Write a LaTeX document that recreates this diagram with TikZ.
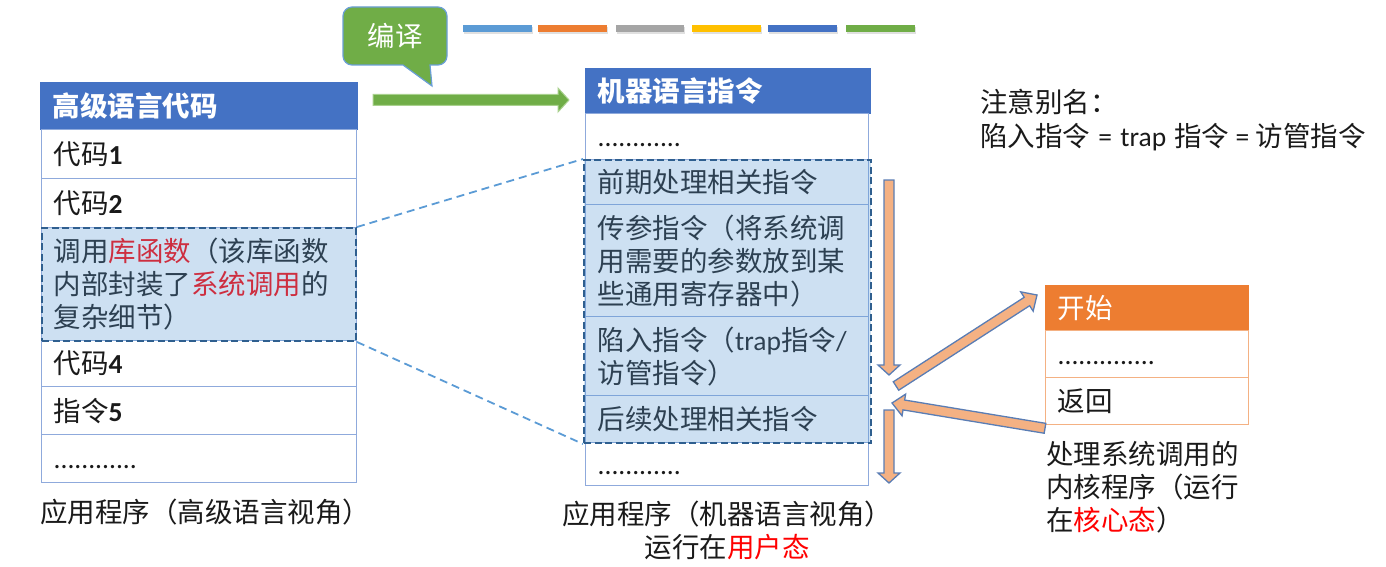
\documentclass[tikz,border=0pt]{standalone}
\usepackage{fontspec}
\setmainfont{Noto Sans CJK SC}
\newfontfamily\lat{Carlito}
\usetikzlibrary{calc}
\definecolor{hblue}{HTML}{4472C4}
\definecolor{cellb}{HTML}{8FAADC}
\definecolor{horange}{HTML}{ED7D31}
\definecolor{orangeb}{HTML}{F4B183}
\definecolor{ofill}{HTML}{F4B183}
\definecolor{oline}{HTML}{5A7DB4}
\definecolor{gfill}{HTML}{70AD47}
\definecolor{gline}{HTML}{A9D18E}
\definecolor{calloutb}{HTML}{6A9FD6}
\definecolor{hlfill}{HTML}{5B9BD5}
\definecolor{hlline}{HTML}{2F5F8F}
\definecolor{connc}{HTML}{5B9BD5}
\definecolor{txt}{HTML}{1A1A1A}
\definecolor{bA}{HTML}{5B9BD5}
\definecolor{bB}{HTML}{ED7D31}
\definecolor{bC}{HTML}{A5A5A5}
\definecolor{bD}{HTML}{FFC000}
\definecolor{bE}{HTML}{4472C4}
\definecolor{bF}{HTML}{70AD47}
\newcommand\fs{\fontsize{27.5}{33}\selectfont}
\newcommand\ns{\fontsize{27.5}{34}\selectfont}
\newcommand\dg[1]{{\lat\bfseries #1}}
\newcommand\blkarrow[6]{%
  \coordinate (bac) at ($(#3)!#6!(#2)$);
  \path[#1] ($(#2)!#4!90:(#3)$) -- ($(bac)!#4!90:(#3)$) -- ($(bac)!#5!90:(#3)$) -- (#3)
    -- ($(bac)!#5!-90:(#3)$) -- ($(bac)!#4!-90:(#3)$) -- ($(#2)!#4!-90:(#3)$) -- cycle;}
\tikzset{
  tbase/.style={anchor=north west, inner xsep=12pt, inner ysep=0pt, align=left, font=\fs, text=txt},
  hdrbox/.style={tbase, fill=#1, draw=#1, text=white, line width=1pt},
  cellbox/.style={tbase, fill=white, draw=#1, line width=1.3pt},
  wL/.style 2 args={minimum width=#1pt, text width=#2pt},
  hlbox/.style={draw=hlline, line width=2pt, dash pattern=on 7pt off 3.5pt, fill=hlfill, fill opacity=0.3, draw opacity=1, inner sep=0pt, anchor=north west},
  connline/.style={draw=connc, line width=1.8pt, dash pattern=on 8pt off 5pt},
  garrow/.style={fill=gfill, draw=gline, line width=1pt},
  oarrow/.style={fill=ofill, draw=oline, line width=1.3pt},
  captxt/.style={inner sep=0pt, font=\fs, text=txt},
  bubble/.style={fill=gfill, draw=calloutb, line width=1.2pt},
}
\begin{document}
\begin{tikzpicture}[x=1pt, y=-1pt]
\useasboundingbox (0,0) rectangle (1386,567);
% colour bars
\foreach \a/\b/\c in {463/532/bA, 538/607/bB, 616/684/bC, 692/761/bD, 768/837/bE, 846/915/bF}{
  \fill[black, opacity=0.12] (\a+1,27) rectangle (\b+1,34);
  \fill[\c] (\a,25) rectangle (\b,32);
}
% callout
\draw[bubble] (403,65) [rounded corners=9pt] -- (343,65) -- (343,7) -- (447,7) -- (447,65) [sharp corners] -- (430,65) -- (432,86) -- cycle;
\node[inner sep=0pt, font=\fs, text=white] (bianyi) at (395,36) {编译};

% left table
\node[hdrbox=hblue, wL={317}{293}, minimum height=47pt, font=\fs\bfseries] (lh) at (40,82) {高级语言代码};
\node[cellbox=cellb, wL={315}{291}, minimum height=49pt] (l1) at (41,129) {代码\dg{1}};
\node[cellbox=cellb, wL={315}{291}, minimum height=49pt] (l2) at (41,178) {代码\dg{2}};
\node[cellbox=cellb, wL={315}{291}, minimum height=113pt] (l3) at (41,227) {调用\textcolor{red}{库函数}（该库函数\\内部封装了\textcolor{red}{系统调用}的\\复杂细节）};
\node[cellbox=cellb, wL={315}{291}, minimum height=46pt] (l4) at (41,340) {代码\dg{4}};
\node[cellbox=cellb, wL={315}{291}, minimum height=48pt] (l5) at (41,386) {指令\dg{5}};
\node[cellbox=cellb, wL={315}{291}, minimum height=48pt] (l6) at (41,434) {\vphantom{代}{\lat ............}};
\node[hlbox, minimum width=314pt, minimum height=113pt] (lhl) at (41,227) {};
\node[captxt, anchor=west] (lcap) at (40,512) {应用程序（高级语言视角）};

% middle table
\node[hdrbox=hblue, wL={285}{261}, minimum height=45pt, font=\fs\bfseries] (mh) at (585,68) {机器语言指令};
\node[cellbox=cellb, wL={283}{259}, minimum height=46pt] (m1) at (585,113) {\vphantom{代}{\lat ............}};
\node[cellbox=cellb, wL={283}{259}, minimum height=45pt] (m2) at (585,159) {前期处理相关指令};
\node[cellbox=cellb, wL={283}{259}, minimum height=112pt] (m3) at (585,204) {传参指令（将系统调\\用需要的参数放到某\\些通用寄存器中）};
\node[cellbox=cellb, wL={283}{259}, minimum height=79pt] (m4) at (585,316) {陷入指令（{\lat trap}指令{\lat /}\\访管指令）};
\node[cellbox=cellb, wL={283}{259}, minimum height=47pt] (m5) at (585,395) {后续处理相关指令};
\node[cellbox=cellb, wL={283}{259}, minimum height=43pt] (m6) at (585,442) {\vphantom{代}{\lat ............}};
\node[hlbox, minimum width=287pt, minimum height=283pt] (mhl) at (583,159) {};
\node[captxt, align=center] (mcap) at (727,530) {应用程序（机器语言视角）\\运行在\textcolor{red}{用户态}};

% dashed connectors
\draw[connline] (lhl.north east) -- (mhl.north west);
\draw[connline] (lhl.south east) -- (mhl.south west);

% compile arrow
\coordinate (gA) at (373,100);
\coordinate (gB) at (569,100);
\blkarrow{garrow}{gA}{gB}{5.5pt}{12pt}{11pt}

% right table
\node[hdrbox=horange, wL={203}{179}, minimum height=45pt] (rh) at (1045,285) {开始};
\node[cellbox=orangeb, wL={203}{179}, minimum height=47pt] (r1) at (1045,330) {\vphantom{代}{\lat ..............}};
\node[cellbox=orangeb, wL={203}{179}, minimum height=47pt] (r2) at (1045,377) {返回};
\node[captxt, anchor=west, align=left] (rcap) at (1046,487) {处理系统调用的\\内核程序（运行\\在\textcolor{red}{核心态}）};

% note
\node[captxt, anchor=west, align=left, font=\ns] (note) at (980,120) {注意别名：\\陷入指令{\lat\hspace{2pt}\ = \hspace{2pt}trap\hspace{2pt}\ }指令{\lat\ = }访管指令};

% orange arrows
\coordinate (o1s) at (889,180);
\coordinate (o1e) at (889,375);
\coordinate (o2s) at (889,410);
\coordinate (o2e) at (889,483);
\coordinate (o3s) at (896,386);
\coordinate (o3e) at (1037,295);
\coordinate (o4s) at ($(r2.south west)+(0,3)$);
\coordinate (o4e) at (892,403);
\blkarrow{oarrow}{o1s}{o1e}{5pt}{11pt}{10pt}
\blkarrow{oarrow}{o2s}{o2e}{5pt}{11pt}{10pt}
\blkarrow{oarrow}{o3s}{o3e}{5pt}{11.5pt}{12pt}
\blkarrow{oarrow}{o4s}{o4e}{5pt}{11pt}{12pt}
\end{tikzpicture}
\end{document}
